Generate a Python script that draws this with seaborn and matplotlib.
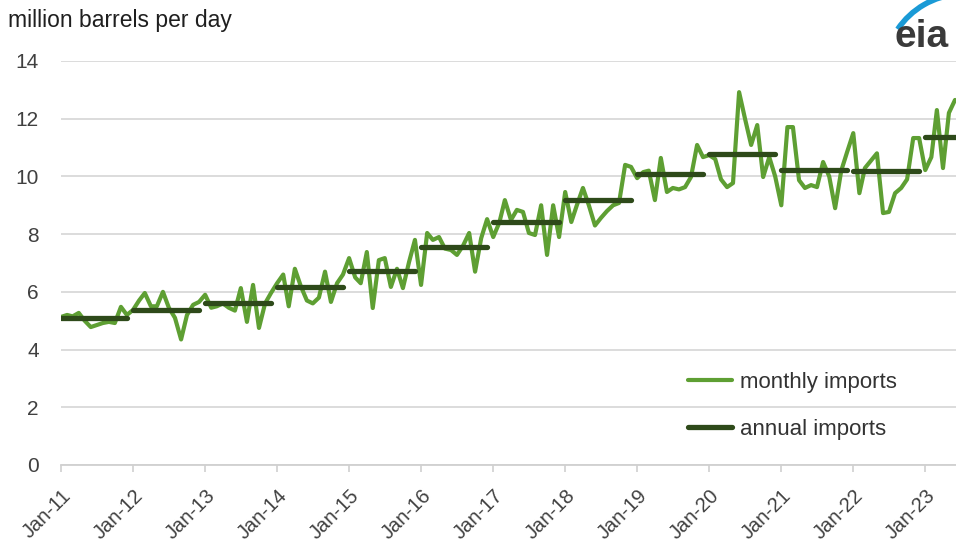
import numpy as np
import pandas as pd
import matplotlib
matplotlib.use("Agg")
import matplotlib.pyplot as plt
import matplotlib.dates as mdates
from matplotlib.lines import Line2D
from matplotlib.patches import Arc
from matplotlib.transforms import IdentityTransform
import seaborn as sns

# Data (million barrels per day), Jan 2011 - Jun 2023
monthly_imports = [
    5.13, 5.20, 5.15, 5.27, 5.00, 4.78, 4.85, 4.92, 4.96, 4.92, 5.48, 5.20,   # 2011
    5.37, 5.70, 5.96, 5.50, 5.50, 6.00, 5.45, 5.10, 4.35, 5.20, 5.55, 5.65,   # 2012
    5.90, 5.45, 5.50, 5.60, 5.45, 5.35, 6.13, 4.96, 6.24, 4.75, 5.60, 5.96,   # 2013
    6.30, 6.60, 5.50, 6.80, 6.20, 5.70, 5.60, 5.80, 6.70, 5.65, 6.30, 6.60,   # 2014
    7.17, 6.50, 6.30, 7.38, 5.44, 7.10, 7.17, 6.17, 6.80, 6.13, 7.03, 7.80,   # 2015
    6.24, 8.04, 7.80, 7.90, 7.50, 7.45, 7.28, 7.60, 8.04, 6.70, 7.86, 8.52,   # 2016
    7.90, 8.40, 9.18, 8.49, 8.84, 8.77, 8.04, 7.97, 9.00, 7.28, 9.00, 7.90,   # 2017
    9.46, 8.42, 9.00, 9.60, 9.00, 8.30, 8.56, 8.80, 9.00, 9.08, 10.40, 10.33, # 2018
    9.94, 10.15, 10.20, 9.18, 10.64, 9.46, 9.60, 9.55, 9.63, 9.98, 11.09, 10.67,  # 2019
    10.74, 10.60, 9.90, 9.63, 9.77, 12.92, 12.00, 11.09, 11.78, 9.98, 10.67, 10.00,  # 2020
    9.00, 11.71, 11.71, 9.87, 9.60, 9.70, 9.63, 10.50, 10.00, 8.90, 10.20, 10.85,  # 2021
    11.50, 9.42, 10.29, 10.55, 10.80, 8.73, 8.77, 9.42, 9.60, 9.90, 11.33, 11.33,  # 2022
    10.22, 10.67, 12.30, 10.29, 12.20, 12.65,                                      # 2023
]
annual_years = [2011, 2012, 2013, 2014, 2015, 2016, 2017, 2018, 2019, 2020, 2021, 2022, 2023]
annual_imports = [5.09, 5.37, 5.62, 6.17, 6.72, 7.56, 8.42, 9.20, 10.10, 10.78, 10.24, 10.19, 11.38]

MONTHLY_COLOR = "#5e9f33"
ANNUAL_COLOR = "#2e4a1a"
TEXT_COLOR = "#404040"

sns.set_theme(style="white")
plt.rcParams["font.family"] = ["Liberation Sans", "DejaVu Sans"]

# build frames
monthly = pd.DataFrame({
    "date": pd.date_range("2011-01-01", periods=len(monthly_imports), freq="MS"),
    "value": monthly_imports,
})
annual = pd.DataFrame({
    "date": [pd.Timestamp(f"{y}-{m:02d}-01") for y in annual_years for m in (1, 12)],
    "value": [v for v in annual_imports for _ in range(2)],
    "year": [y for y in annual_years for _ in range(2)],
})

fig = plt.figure(figsize=(9.56, 5.44), dpi=100)
ax = fig.add_axes([61 / 956, 79 / 544, 1 - 61 / 956, (465 - 61) / 544])

sns.lineplot(data=monthly, x="date", y="value", ax=ax, color=MONTHLY_COLOR,
             linewidth=3.0, zorder=3)
sns.lineplot(data=annual, x="date", y="value", units="year", estimator=None, ax=ax,
             color=ANNUAL_COLOR, linewidth=3.8, zorder=4, solid_capstyle="round")

ax.set_ylim(0, 14)
ax.set_yticks(np.arange(0, 15, 2))
ax.set_xlim(pd.Timestamp("2011-01-01"), pd.Timestamp("2023-06-06"))
ax.xaxis.set_major_locator(mdates.YearLocator())
ax.xaxis.set_major_formatter(mdates.DateFormatter("%b-%y"))
ax.set_xlabel("")
ax.set_ylabel("")

ax.grid(axis="y", color="#d9d9d9", linewidth=1.3)
ax.grid(axis="x", visible=False)
for s in ["top", "right", "left"]:
    ax.spines[s].set_visible(False)
ax.spines["bottom"].set_color("#d0d0d0")
ax.spines["bottom"].set_linewidth(1.3)

ax.tick_params(axis="y", length=0, pad=16, labelsize=15, labelcolor=TEXT_COLOR)
ax.tick_params(axis="x", length=5, width=1.2, color="#d0d0d0", direction="out",
               pad=10, labelsize=14.5, labelcolor=TEXT_COLOR, bottom=True)
for lab in ax.get_xticklabels():
    lab.set_rotation(45)
    lab.set_ha("right")
    lab.set_va("top")
    lab.set_rotation_mode("anchor")

handles = [Line2D([], [], color=MONTHLY_COLOR, linewidth=3.0),
           Line2D([], [], color=ANNUAL_COLOR, linewidth=3.8)]
leg = ax.legend(handles, ["monthly imports", "annual imports"], loc="upper left",
                bbox_to_anchor=(688 / 956, 1 - 372 / 544), bbox_transform=fig.transFigure,
                frameon=False, fontsize=16, handlelength=2.0, handletextpad=0.35,
                labelspacing=1.15, borderpad=0, borderaxespad=0)
for t in leg.get_texts():
    t.set_color("#333333")

fig.text(8 / 956, 1 - 20 / 544, "million barrels per day", fontsize=16.5,
         color="#1f1f1f", ha="left", va="center")

# eia logo
fig.text(894 / 956, 1 - 37 / 544, "eia", fontsize=28, color="#3a3a3a",
         ha="left", va="center", fontweight="bold")
fig.add_artist(Arc((964, 544 - 74), 160, 160, theta1=94, theta2=146,
                   transform=IdentityTransform(), color="#1a9ad6", linewidth=4))

fig.savefig("out.png", dpi=100)
